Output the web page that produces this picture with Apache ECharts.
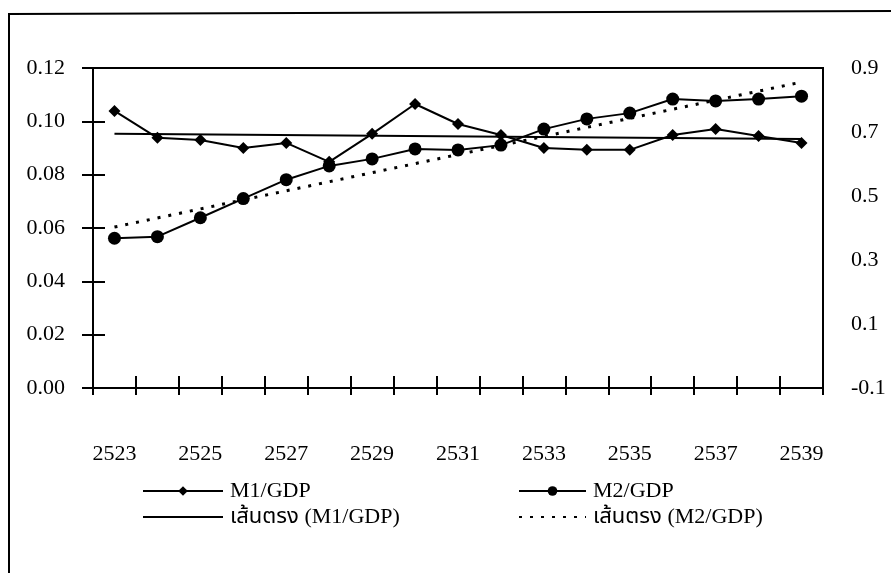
<!DOCTYPE html>
<html>
<head>
<meta charset="UTF-8">
<title>M1/GDP M2/GDP</title>
<script src="https://cdn.jsdelivr.net/npm/echarts@6/dist/echarts.min.js"></script>
<style>
  html, body { margin: 0; padding: 0; background: #fff; }
  #chart { width: 891px; height: 573px; }
</style>
</head>
<body>
<div id="chart"></div>
<script>
// ปี พ.ศ.
var years = ['2523','2524','2525','2526','2527','2528','2529','2530','2531',
             '2532','2533','2534','2535','2536','2537','2538','2539'];
// แกนซ้าย
var m1gdp = [0.1039, 0.0938, 0.0930, 0.0900, 0.0919, 0.0848, 0.0953, 0.1065, 0.0990,
             0.0949, 0.0900, 0.0893, 0.0893, 0.0949, 0.0971, 0.0945, 0.0919];
// แกนขวา
var m2gdp = [0.368, 0.373, 0.432, 0.492, 0.551, 0.594, 0.616, 0.647, 0.644,
             0.659, 0.709, 0.741, 0.759, 0.803, 0.797, 0.803, 0.812];
// เส้นตรง: ค่าต้นและปลาย อ่านจากภาพ
var trendM1 = [0.0953, 0.0934];
var trendM2 = [0.403, 0.856];

var font = '"Liberation Serif", "Noto Sans Thai", serif';
var chart = echarts.init(document.getElementById('chart'));

var option = {
  backgroundColor: '#fff',
  animation: false,
  textStyle: { fontFamily: font, color: '#000' },
  grid: {
    left: 93, right: 68, top: 68, bottom: 185,
    show: true, borderColor: '#000', borderWidth: 2, backgroundColor: 'transparent'
  },
  legend: [{
    orient: 'vertical', left: 137, top: 475,
    itemWidth: 80, itemHeight: 12, itemGap: 4,
    textStyle: { fontFamily: font, fontSize: 22, color: '#000', padding: [0, 0, 0, 2] },
    data: ['M1/GDP', 'เส้นตรง (M1/GDP)']
  }, {
    orient: 'vertical', left: 513, top: 475,
    itemWidth: 67, itemHeight: 12, itemGap: 4,
    textStyle: { fontFamily: font, fontSize: 22, color: '#000', padding: [0, 0, 0, 2] },
    data: ['M2/GDP', 'เส้นตรง (M2/GDP)']
  }],
  xAxis: [{
    type: 'category',
    data: years,
    boundaryGap: true,
    axisLine: { onZero: false, lineStyle: { color: '#000', width: 2 } },
    axisTick: { show: true, interval: 0, inside: true, length: 12, lineStyle: { color: '#000', width: 2 } },
    axisLabel: { interval: 1, margin: 55, fontSize: 22, color: '#000', fontFamily: font }
  }, {
    type: 'category',
    data: years,
    position: 'bottom',
    boundaryGap: true,
    axisLine: { show: false, onZero: false },
    axisTick: { show: true, interval: 0, length: 7, lineStyle: { color: '#000', width: 2 } },
    axisLabel: { show: false }
  }],
  yAxis: [{
    type: 'value', min: 0, max: 0.12, interval: 0.02,
    position: 'left',
    splitLine: { show: false },
    axisLine: { show: true, lineStyle: { color: '#000', width: 2 } },
    axisTick: { show: true, length: 11, lineStyle: { color: '#000', width: 2 } },
    axisLabel: {
      margin: 28, fontSize: 22, color: '#000', fontFamily: font,
      formatter: function (v) { return v.toFixed(2); }
    }
  }, {
    type: 'value', min: -0.1, max: 0.9, interval: 0.1,
    position: 'right',
    splitLine: { show: false },
    axisLine: { show: false },
    axisTick: { show: false },
    axisLabel: {
      margin: 28, fontSize: 22, color: '#000', fontFamily: font,
      formatter: function (v) {
        var k = Math.round(v * 10);
        return Math.abs(k) % 2 === 1 ? v.toFixed(1) : '';
      }
    }
  }, {
    type: 'value', min: 0, max: 0.12, interval: 0.02,
    position: 'left',
    splitLine: { show: false },
    axisLine: { show: false },
    axisTick: { show: true, inside: true, length: 12, lineStyle: { color: '#000', width: 2 } },
    axisLabel: { show: false }
  }],
  series: [{
    name: 'M1/GDP',
    type: 'line',
    yAxisIndex: 0,
    data: m1gdp,
    symbol: 'diamond', symbolSize: 12,
    itemStyle: { color: '#000' },
    lineStyle: { color: '#000', width: 2 }
  }, {
    name: 'M2/GDP',
    type: 'line',
    yAxisIndex: 1,
    data: m2gdp,
    symbol: 'circle', symbolSize: 13,
    itemStyle: { color: '#000' },
    lineStyle: { color: '#000', width: 2 }
  }, {
    name: 'เส้นตรง (M1/GDP)',
    type: 'line',
    yAxisIndex: 0,
    data: [[years[0], trendM1[0]], [years[years.length - 1], trendM1[1]]],
    symbol: 'line', showSymbol: false,
    itemStyle: { color: '#000' },
    lineStyle: { color: '#000', width: 2 }
  }, {
    name: 'เส้นตรง (M2/GDP)',
    type: 'line',
    yAxisIndex: 1,
    data: [[years[0], trendM2[0]], [years[years.length - 1], trendM2[1]]],
    symbol: 'line', showSymbol: false,
    itemStyle: { color: '#000' },
    lineStyle: { color: '#000', width: 3, type: [3, 8] }
  }],
  graphic: [{
    type: 'polyline',
    shape: { points: [[9, 573], [9, 14], [891, 11]] },
    style: { stroke: '#000', lineWidth: 2, fill: null },
    silent: true
  }]
};

chart.setOption(option);
</script>
</body>
</html>
